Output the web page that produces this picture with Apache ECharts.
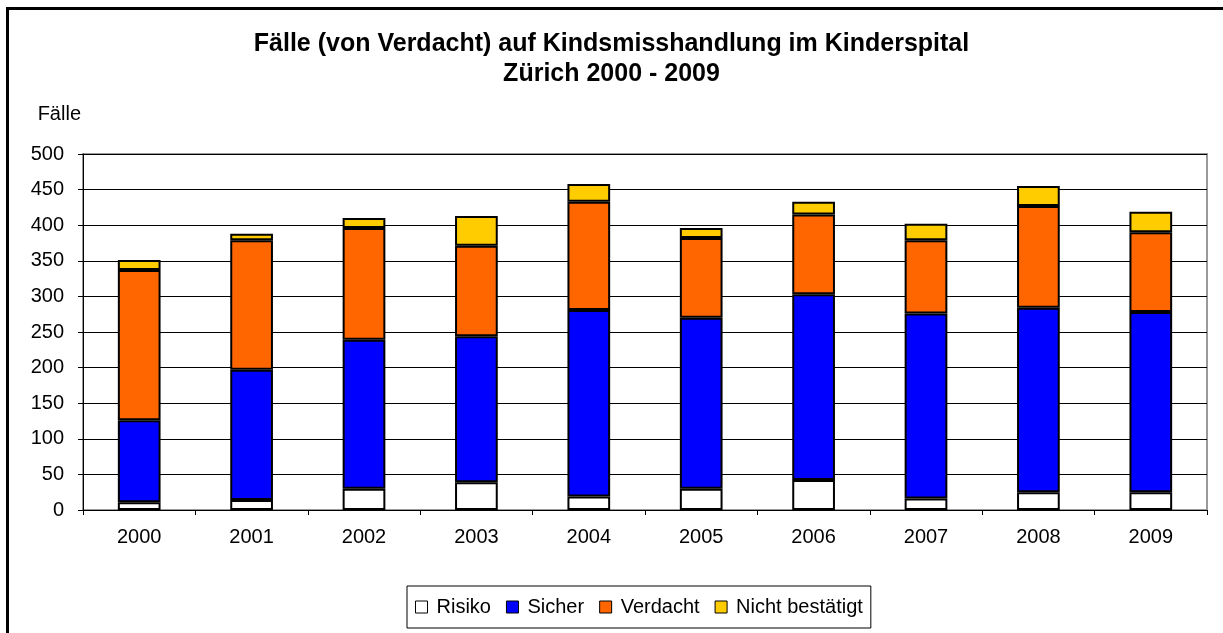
<!DOCTYPE html>
<html lang="de">
<head>
	<meta charset="UTF-8">
	<title>Fälle Kindsmisshandlung</title>
	<script src="https://cdn.jsdelivr.net/npm/echarts@6/dist/echarts.min.js"></script>
	<style>
		html, body { margin: 0; padding: 0; background: #fff; }
		#chartBox { width: 1223px; height: 633px; }
	</style>
</head>
<body>
<div id="chartBox"></div>
<script>
    // Jahre
    var years = ['2000', '2001', '2002', '2003', '2004', '2005', '2006', '2007', '2008', '2009'];
    // Werte pro Kategorie (gestapelt)
    var risiko = [11, 14, 30, 39, 19, 30, 42, 16, 25, 25];
    var sicher = [115, 183, 209, 205, 262, 240, 261, 260, 259, 253];
    var verdacht = [211, 182, 157, 127, 152, 112, 112, 103, 143, 112];
    var nichtBestaetigt = [14, 9, 14, 42, 25, 14, 18, 23, 28, 29];
    var seriesNames = ['Risiko', 'Sicher', 'Verdacht', 'Nicht bestätigt'];
    var colors = ['#FFFFFF', '#0000FF', '#FF6600', '#FFCC00'];

    var fontFam = '"Liberation Sans", Arial, sans-serif';
    var myChart = echarts.init(document.getElementById('chartBox'));

    function bar(name, data, color) {
        return {
            name: name,
            type: 'bar',
            stack: 'total',
            data: data,
            barWidth: '38%',
            itemStyle: { color: color, borderColor: '#000', borderWidth: 2 }
        };
    }

    var option = {
        animation: false,
        backgroundColor: '#fff',
        textStyle: { fontFamily: fontFam },
        title: {
            text: 'Fälle (von Verdacht) auf Kindsmisshandlung im Kinderspital\nZürich 2000 - 2009',
            left: 'center',
            top: 24,
            textStyle: { fontSize: 25, fontWeight: 'bold', color: '#000', lineHeight: 30, fontFamily: fontFam }
        },
        graphic: [{
            type: 'rect',
            shape: { x: 7.5, y: 8.5, width: 1300, height: 700 },
            style: { fill: 'none', stroke: '#000', lineWidth: 3 },
            silent: true
        }],
        legend: {
            data: seriesNames,
            left: 407,
            top: 586,
            padding: [11, 8, 11, 8],
            borderColor: '#000',
            borderWidth: 1,
            itemWidth: 12,
            itemHeight: 12,
            itemGap: 15,
            icon: 'rect',
            itemStyle: { borderColor: '#000', borderWidth: 1 },
            textStyle: { fontSize: 20, color: '#000', fontFamily: fontFam, padding: [0, 0, 0, 4] }
        },
        grid: {
            left: 83,
            right: 16,
            top: 154,
            bottom: 123,
            show: true,
            borderColor: '#9a9a9a',
            borderWidth: 2
        },
        xAxis: {
            type: 'category',
            data: years,
            axisLine: { lineStyle: { color: '#000', width: 1 } },
            axisTick: { show: true, length: 5, lineStyle: { color: '#000' } },
            axisLabel: { fontSize: 20, color: '#000', margin: 17 }
        },
        yAxis: {
            type: 'value',
            min: 0,
            max: 500,
            interval: 50,
            name: 'Fälle',
            nameLocation: 'end',
            nameGap: 30,
            nameTextStyle: { fontSize: 20, color: '#000', align: 'right', padding: [0, 2, 0, 0] },
            axisLine: { show: true, lineStyle: { color: '#000', width: 1 } },
            axisTick: { show: true, length: 5, lineStyle: { color: '#000' } },
            axisLabel: { fontSize: 20, color: '#000', margin: 19 },
            splitLine: { lineStyle: { color: '#000', width: 1 } }
        },
        series: [
            bar(seriesNames[0], risiko, colors[0]),
            bar(seriesNames[1], sicher, colors[1]),
            bar(seriesNames[2], verdacht, colors[2]),
            bar(seriesNames[3], nichtBestaetigt, colors[3])
        ]
    };
    myChart.setOption(option);
</script>
</body>
</html>
